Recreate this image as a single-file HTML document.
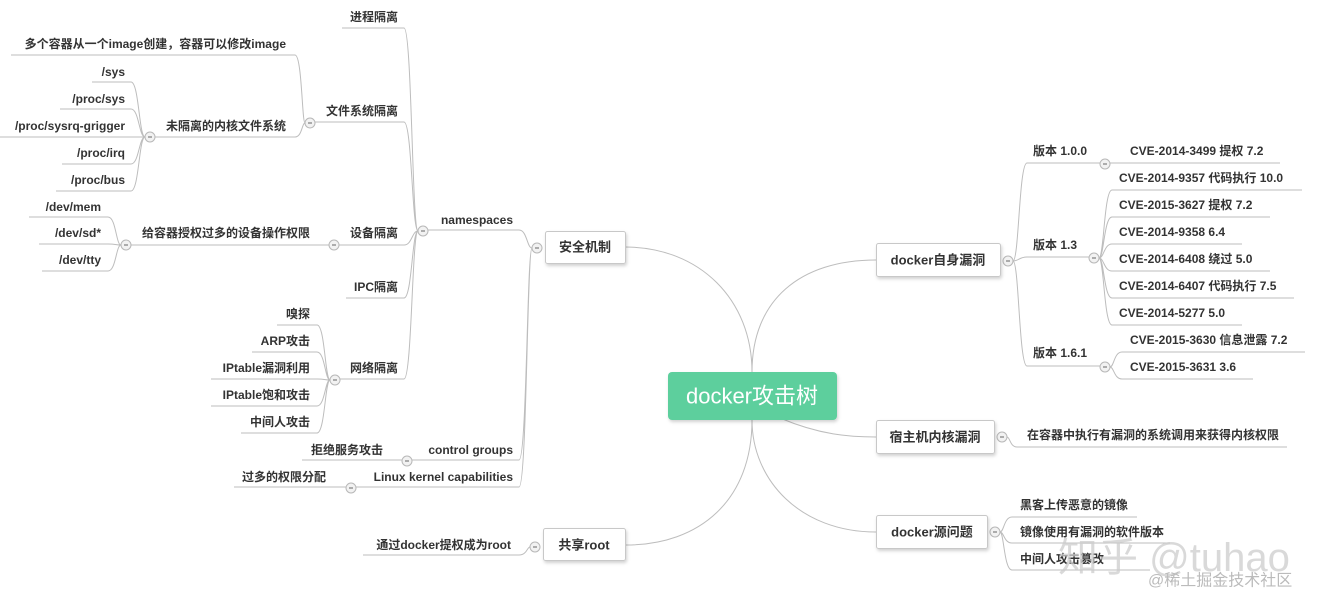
<!DOCTYPE html>
<html><head><meta charset="utf-8"><style>
html,body{margin:0;padding:0;background:#fff;}
svg{display:block;}
text{font-family:"Liberation Sans","Noto Sans CJK SC",sans-serif;font-size:12px;fill:#333;font-weight:bold;dominant-baseline:central;}
.e{text-anchor:end;}
.l{stroke:#bdbdbd;stroke-width:1;fill:none;}
.c{fill:#f2f2f2;stroke:#b8b8b8;stroke-width:1;}
.box{fill:#fff;stroke:#c8c8c8;stroke-width:1;}
.bt{font-size:13px;text-anchor:middle;}
</style></head><body>
<svg width="1326" height="611" viewBox="0 0 1326 611" xmlns="http://www.w3.org/2000/svg">
<defs><filter id="sh" x="-10%" y="-10%" width="130%" height="140%"><feDropShadow dx="1" dy="2" stdDeviation="1.5" flood-color="#000" flood-opacity="0.18"/></filter></defs>

<!-- center curves -->
<path class="l" d="M625,247 C700,247 752,300 752,372"/>
<path class="l" d="M752,372 C752,300 800,260 876,260"/>
<path class="l" d="M752,420 C752,500 700,545 626,545"/>
<path class="l" d="M752,420 C752,480 800,532 876,532"/>
<path class="l" d="M780,418 C820,435 850,437 876,437"/>

<!-- 安全机制 group -->
<path class="l" d="M532,248 C527,248 527,230 519,230 M532,248 C527,248 527,460 519,460 M532,248 C527,248 527,487 519,487"/>
<path class="l" d="M428,230 H519 M412,460 H519 M356,487 H519"/>
<!-- namespaces group -->
<path class="l" d="M418,231 C412,231 412,28 404,28 M418,231 C412,231 412,122 404,122 M418,231 C412,231 412,245 404,245 M418,231 C412,231 412,298 404,298 M418,231 C412,231 412,379 404,379"/>
<path class="l" d="M342,28 H404 M315,122 H404 M339,245 H404 M346,298 H404 M340,379 H404"/>
<!-- 文件系统 -->
<path class="l" d="M305,123 C302,123 302,55 295,55 M305,123 C302,123 302,137 295,137"/>
<path class="l" d="M11,55 H295 M155,137 H295"/>
<!-- 未隔离 -->
<path class="l" d="M145,137 C139,137 139,82 131,82 M145,137 C139,137 139,109 131,109 M145,137 C139,137 139,137 131,137 M145,137 C139,137 139,164 131,164 M145,137 C139,137 139,191 131,191"/>
<path class="l" d="M92,82 H131 M60,109 H131 M0,137 H131 M62,164 H131 M56,191 H131"/>
<!-- 设备 -->
<path class="l" d="M131,245 H329"/>
<path class="l" d="M121,245 C116,245 116,217 108,217 M121,245 C116,245 116,244 108,244 M121,245 C116,245 116,271 108,271"/>
<path class="l" d="M29,217 H108 M39,244 H108 M42,271 H108"/>
<!-- 网络 -->
<path class="l" d="M330,380 C325,380 325,325 317,325 M330,380 C325,380 325,352 317,352 M330,380 C325,380 325,379 317,379 M330,380 C325,380 325,406 317,406 M330,380 C325,380 325,433 317,433"/>
<path class="l" d="M277,325 H317 M252,352 H317 M211,379 H317 M211,406 H317 M241,433 H317"/>
<path class="l" d="M302,460 H402 M234,487 H346"/>
<!-- 共享root -->
<path class="l" d="M540,547 H530 C527,547 527,555 519,555 M363,555 H519"/>

<!-- right: docker自身漏洞 -->
<path class="l" d="M1013,261 C1019,261 1019,163 1027,163 M1013,261 C1019,261 1019,257 1027,257 M1013,261 C1019,261 1019,366 1027,366"/>
<path class="l" d="M1027,163 H1100 M1027,257 H1089 M1027,366 H1100"/>
<path class="l" d="M1110,163 H1280"/>
<path class="l" d="M1099,258 C1104,258 1104,190 1112,190 M1099,258 C1104,258 1104,217 1112,217 M1099,258 C1104,258 1104,244 1112,244 M1099,258 C1104,258 1104,271 1112,271 M1099,258 C1104,258 1104,298 1112,298 M1099,258 C1104,258 1104,325 1112,325"/>
<path class="l" d="M1112,190 H1302 M1112,217 H1270 M1112,244 H1242 M1112,271 H1270 M1112,298 H1294 M1112,325 H1242"/>
<path class="l" d="M1110,367 C1114,367 1114,352 1122,352 M1110,367 C1114,367 1114,379 1122,379 M1122,352 H1305 M1122,379 H1253"/>
<path class="l" d="M1007,437 C1010,437 1010,447 1017,447 H1287"/>
<path class="l" d="M1000,532 C1004,532 1004,517 1012,517 M1000,532 C1004,532 1004,543 1012,543 M1000,532 C1004,532 1004,570 1012,570 M1012,517 H1137 M1012,543 H1170 M1012,570 H1150"/>

<!-- circles -->
<g>
<circle class="c" cx="537" cy="248" r="5"/><circle class="c" cx="423" cy="231" r="5"/><circle class="c" cx="310" cy="123" r="5"/><circle class="c" cx="150" cy="137" r="5"/><circle class="c" cx="334" cy="245" r="5"/><circle class="c" cx="126" cy="245" r="5"/><circle class="c" cx="335" cy="380" r="5"/><circle class="c" cx="407" cy="461" r="5"/><circle class="c" cx="351" cy="488" r="5"/><circle class="c" cx="535" cy="547" r="5"/><circle class="c" cx="1008" cy="261" r="5"/><circle class="c" cx="1105" cy="164" r="5"/><circle class="c" cx="1094" cy="258" r="5"/><circle class="c" cx="1105" cy="367" r="5"/><circle class="c" cx="1002" cy="437" r="5"/><circle class="c" cx="995" cy="532" r="5"/>
</g>
<path stroke="#666" stroke-width="1" d="M535,248h4 M421,231h4 M308,123h4 M148,137h4 M332,245h4 M124,245h4 M333,380h4 M405,461h4 M349,488h4 M533,547h4 M1006,261h4 M1103,164h4 M1092,258h4 M1103,367h4 M1000,437h4 M993,532h4"/>

<!-- boxes -->
<rect x="668" y="372" width="169" height="48" rx="4" fill="#5dcf9d" filter="url(#sh)"/>
<text x="752" y="396" style="font-size:22px;fill:#fff;font-weight:normal;text-anchor:middle">docker攻击树</text>
<rect class="box" x="545.5" y="231.5" width="80" height="32" rx="2" filter="url(#sh)"/><text class="bt" x="585" y="247">安全机制</text>
<rect class="box" x="543.5" y="528.5" width="82" height="32" rx="2" filter="url(#sh)"/><text class="bt" x="584" y="545">共享root</text>
<rect class="box" x="876.5" y="243.5" width="124" height="33" rx="2" filter="url(#sh)"/><text class="bt" x="938" y="260">docker自身漏洞</text>
<rect class="box" x="876.5" y="420.5" width="118" height="33" rx="2" filter="url(#sh)"/><text class="bt" x="935" y="437">宿主机内核漏洞</text>
<rect class="box" x="876.5" y="515.5" width="111" height="33" rx="2" filter="url(#sh)"/><text class="bt" x="932" y="532">docker源问题</text>

<!-- left texts -->
<text class="e" x="398" y="17">进程隔离</text>
<text class="e" x="286" y="44">多个容器从一个image创建，容器可以修改image</text>
<text class="e" x="125" y="72">/sys</text>
<text class="e" x="125" y="99">/proc/sys</text>
<text class="e" x="125" y="126">/proc/sysrq-grigger</text>
<text class="e" x="125" y="153">/proc/irq</text>
<text class="e" x="125" y="180">/proc/bus</text>
<text class="e" x="286" y="126">未隔离的内核文件系统</text>
<text class="e" x="398" y="111">文件系统隔离</text>
<text class="e" x="101" y="207">/dev/mem</text>
<text class="e" x="101" y="233">/dev/sd*</text>
<text class="e" x="101" y="260">/dev/tty</text>
<text class="e" x="310" y="233">给容器授权过多的设备操作权限</text>
<text class="e" x="398" y="233">设备隔离</text>
<text class="e" x="398" y="287">IPC隔离</text>
<text class="e" x="513" y="220">namespaces</text>
<text class="e" x="310" y="314">嗅探</text>
<text class="e" x="310" y="341">ARP攻击</text>
<text class="e" x="310" y="368">IPtable漏洞利用</text>
<text class="e" x="310" y="395">IPtable饱和攻击</text>
<text class="e" x="310" y="422">中间人攻击</text>
<text class="e" x="398" y="368">网络隔离</text>
<text class="e" x="513" y="450">control groups</text>
<text class="e" x="383" y="450">拒绝服务攻击</text>
<text class="e" x="513" y="477">Linux kernel capabilities</text>
<text class="e" x="326" y="477">过多的权限分配</text>
<text class="e" x="511" y="545">通过docker提权成为root</text>

<!-- right texts -->
<text x="1033" y="151">版本 1.0.0</text>
<text x="1130" y="151">CVE-2014-3499 提权 7.2</text>
<text x="1033" y="245">版本 1.3</text>
<text x="1119" y="178">CVE-2014-9357 代码执行 10.0</text>
<text x="1119" y="205">CVE-2015-3627 提权 7.2</text>
<text x="1119" y="232">CVE-2014-9358 6.4</text>
<text x="1119" y="259">CVE-2014-6408 绕过 5.0</text>
<text x="1119" y="286">CVE-2014-6407 代码执行 7.5</text>
<text x="1119" y="313">CVE-2014-5277 5.0</text>
<text x="1033" y="353">版本 1.6.1</text>
<text x="1130" y="340">CVE-2015-3630 信息泄露 7.2</text>
<text x="1130" y="367">CVE-2015-3631 3.6</text>
<text x="1027" y="435">在容器中执行有漏洞的系统调用来获得内核权限</text>
<text x="1020" y="505">黑客上传恶意的镜像</text>
<text x="1020" y="532">镜像使用有漏洞的软件版本</text>
<text x="1020" y="559">中间人攻击篡改</text>

<!-- watermark -->
<text x="1058" y="558" style="font-size:40px;fill:#ccc;fill-opacity:0.75;font-weight:normal">知乎 @tuhao</text>
<text x="1148" y="581" style="font-size:16px;fill:#bbb;font-weight:normal">@稀土掘金技术社区</text>
</svg>
</body></html>
